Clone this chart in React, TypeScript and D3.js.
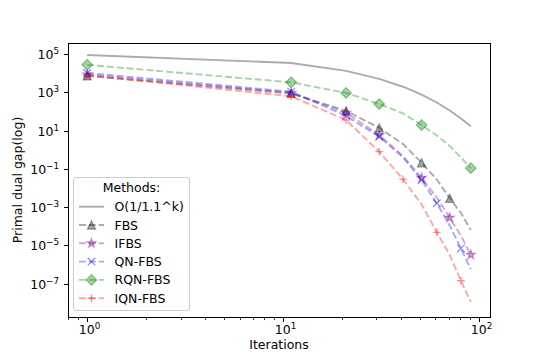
import * as d3 from 'd3';

// iterations sampled every 10 steps
const iterations = [1, 11, 21, 31, 41, 51, 61, 71, 81, 91];

// primal dual gap per method
const refRate = [9.1e4, 3.5e4, 1.35e4, 5.2e3, 2.0e3, 7.7e2, 3.0e2, 1.15e2, 44, 17];
const fbs = [7.3e3, 8.9e2, 1.1e2, 14, 2.0, 0.21, 2.8e-2, 2.9e-3, 5e-4, 6.3e-5];
const ifbs = [8.6e3, 9.5e2, 87, 5.9, 0.48, 3.4e-2, 3.2e-3, 2.8e-4, 3.2e-5, 3.2e-6];
const qnfbs = [1.05e4, 1.1e3, 59, 4.9, 0.4, 2.6e-2, 1.6e-3, 1.1e-4, 6.9e-6, 5.5e-7];
const rqnfbs = [2.8e4, 3.4e3, 9.5e2, 2.5e2, 80, 20, 5.6, 1.6, 0.4, 0.11];
const iqnfbs = [8.0e3, 6.3e2, 36, 0.8, 2.9e-2, 1.4e-3, 4.8e-5, 3.2e-6, 1.4e-7, 1.1e-8];

const yTickExps = [5, 3, 1, -1, -3, -5, -7];
const xTickExps = [0, 1, 2];

const series = [
  { name: 'O(1/1.1^k)', values: refRate, color: '#000', alpha: 0.33, dash: null, marker: null, marks: [] },
  { name: 'FBS', values: fbs, color: '#000', alpha: 0.33, dash: '6.9,3', marker: 'tri', marks: [0, 1, 2, 3, 5, 7] },
  { name: 'IFBS', values: ifbs, color: '#800080', alpha: 0.35, dash: '6.9,3', marker: 'star', marks: [0, 1, 2, 3, 5, 7, 9] },
  { name: 'QN-FBS', values: qnfbs, color: '#0000ff', alpha: 0.35, dash: '6.9,3', marker: 'x', marks: [0, 1, 2, 3, 5, 6, 8] },
  { name: 'RQN-FBS', values: rqnfbs, color: '#008000', alpha: 0.35, dash: '6.9,3', marker: 'diamond', marks: [0, 1, 2, 3, 5, 9] },
  { name: 'IQN-FBS', values: iqnfbs, color: '#ff0000', alpha: 0.35, dash: '6.9,3', marker: 'plus', marks: [0, 1, 2, 3, 4, 6, 8] },
];

const W = 545, H = 363;
const left = 68, right = 490, top = 43, bottom = 317;
const font = 'DejaVu Sans, sans-serif';
const fs = 12.5;

const x = d3.scaleLog().domain([Math.pow(10, -0.098), Math.pow(10, 2.057)]).range([left, right]);
const y = d3.scaleLog().domain([Math.pow(10, -8.75), Math.pow(10, 5.59)]).range([bottom, top]);

const starPath = d3.symbol().type(d3.symbolStar).size(24)();

function Marker({ kind, cx, cy, color, alpha }: any) {
  const common = { fill: color, stroke: color, fillOpacity: alpha, strokeOpacity: alpha + 0.05, strokeWidth: 1.25 };
  const t = `translate(${cx},${cy})`;
  if (kind === 'tri') {
    const s = 4;
    return <path transform={t} d={`M0,${-s} L${s},${s} L${-s},${s} Z`} {...common} />;
  }
  if (kind === 'star') return <path transform={t} d={starPath as string} {...common} />;
  if (kind === 'diamond') {
    const s = 5.3;
    return <path transform={t} d={`M0,${-s} L${s},0 L0,${s} L${-s},0 Z`} {...common} />;
  }
  if (kind === 'x') {
    const s = 3.8;
    return <path transform={t} d={`M${-s},${-s} L${s},${s} M${-s},${s} L${s},${-s}`} stroke={color} strokeOpacity={alpha + 0.1} strokeWidth={1.3} fill="none" />;
  }
  if (kind === 'plus') {
    const s = 3.8;
    return <path transform={t} d={`M${-s},0 L${s},0 M0,${-s} L0,${s}`} stroke={color} strokeOpacity={alpha + 0.1} strokeWidth={1.3} fill="none" />;
  }
  return null;
}

function Pow({ e }: { e: number }) {
  const s = e < 0 ? '\u2212' + Math.abs(e) : String(e);
  return (
    <>
      <tspan>10</tspan>
      <tspan dy={-5.2} fontSize={fs * 0.7}>{s}</tspan>
    </>
  );
}

export default function App() {
  const line = d3.line<number>()
    .x((_, i) => x(iterations[i]))
    .y(d => y(d));

  const minorX: number[] = [];
  [0.1, 1, 10].forEach(b => {
    for (let k = 2; k <= 9; k++) {
      const v = b * k;
      if (v >= x.domain()[0] && v <= x.domain()[1]) minorX.push(v);
    }
  });

  const legX = 73.5, legY = 177.5, legW = 116, legH = 133;
  const rowY = (i: number) => 206.7 + i * 18.3;

  return (
    <div style={{ position: 'absolute', left: 0, top: 0 }}>
      <svg width={W} height={H} fontFamily={font} style={{ display: 'block', background: '#fff' }}>
        <g>
          {series.map(s => (
            <g key={s.name}>
              <path d={line(s.values) as string} fill="none" stroke={s.color} strokeOpacity={s.alpha}
                strokeWidth={1.9} strokeDasharray={s.dash ?? undefined} />
              {s.marks.map(i => (
                <Marker key={i} kind={s.marker} cx={x(iterations[i])} cy={y(s.values[i])} color={s.color} alpha={s.alpha} />
              ))}
            </g>
          ))}
        </g>

        {/* frame */}
        <rect x={left + 0.5} y={top + 0.5} width={right - left} height={bottom - top} fill="none" stroke="#000" strokeWidth={1} />

        {/* y axis */}
        {yTickExps.map(e => {
          const yy = Math.round(y(Math.pow(10, e))) + 0.5;
          return (
            <g key={e}>
              <line x1={left + 0.5} x2={left - 4} y1={yy} y2={yy} stroke="#000" strokeWidth={1} />
              <text x={59} y={yy + 4.6} textAnchor="end" fontSize={fs} fill="#000"><Pow e={e} /></text>
            </g>
          );
        })}

        {/* x axis */}
        {minorX.map(v => {
          const xx = Math.round(x(v)) + 0.5;
          return <line key={v} x1={xx} x2={xx} y1={bottom + 0.5} y2={bottom + 3} stroke="#000" strokeWidth={0.8} />;
        })}
        {xTickExps.map(e => {
          const xx = Math.round(x(Math.pow(10, e))) + 0.5;
          return (
            <g key={e}>
              <line x1={xx} x2={xx} y1={bottom + 0.5} y2={bottom + 5} stroke="#000" strokeWidth={1} />
              <text x={xx + 2} y={334} textAnchor="middle" fontSize={fs} fill="#000"><Pow e={e} /></text>
            </g>
          );
        })}

        <text x={(left + right) / 2} y={348.5} textAnchor="middle" fontSize={fs}>Iterations</text>
        <text transform={`translate(22,${(top + bottom) / 2}) rotate(-90)`} textAnchor="middle" fontSize={fs}>Primal dual gap(log)</text>

        {/* legend */}
        <rect x={legX} y={legY} width={legW} height={legH} rx={2.5} fill="#fff" fillOpacity={0.8} stroke="#cccccc" strokeWidth={1} />
        <text x={legX + legW / 2} y={192.3} textAnchor="middle" fontSize={fs}>Methods:</text>
        {series.map((s, i) => {
          const cy = rowY(i);
          return (
            <g key={s.name}>
              <line x1={79} x2={104} y1={cy} y2={cy} stroke={s.color} strokeOpacity={s.alpha} strokeWidth={1.9}
                strokeDasharray={s.dash ?? undefined} />
              {s.marker && <Marker kind={s.marker} cx={91.5} cy={cy} color={s.color} alpha={s.alpha} />}
              <text x={114.5} y={cy + 4.5} fontSize={fs}>{s.name}</text>
            </g>
          );
        })}
      </svg>
    </div>
  );
}
